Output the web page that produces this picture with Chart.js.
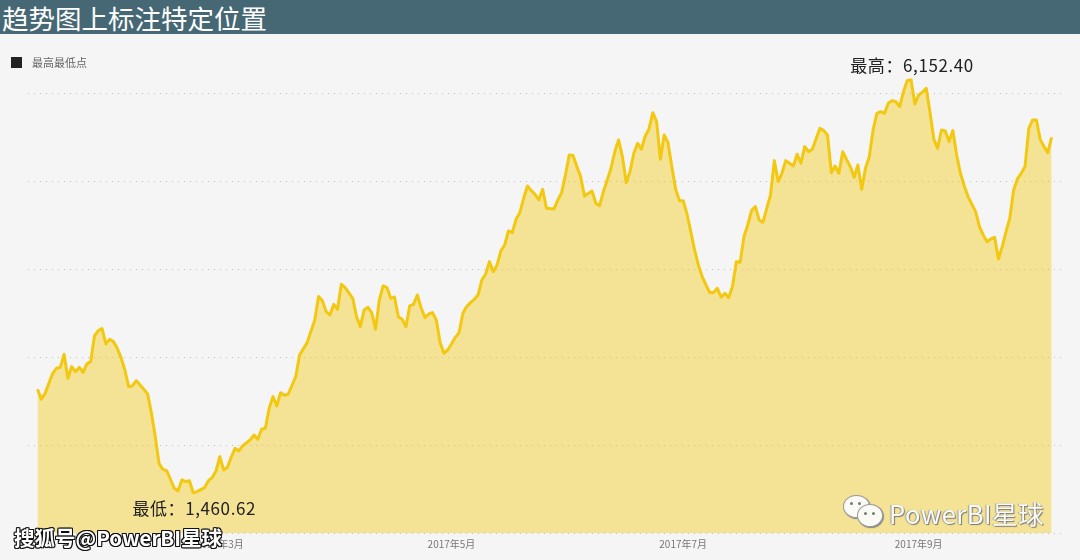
<!DOCTYPE html>
<html><head><meta charset="utf-8">
<script src="https://cdn.jsdelivr.net/npm/chart.js@4.4.1/dist/chart.umd.min.js"></script>
<style>
html,body{margin:0;padding:0;background:#f5f5f5;}
body{width:1080px;height:560px;position:relative;overflow:hidden;font-family:"Noto Sans CJK SC","Noto Sans",sans-serif;}
#chartBox{position:absolute;left:0;top:0;width:1080px;height:560px;}
#title{position:absolute;left:0;top:0;width:1080px;height:34px;background:#466875;color:#fff;font-size:26.5px;line-height:36px;padding-left:2px;box-sizing:border-box;white-space:nowrap;overflow:hidden;}
#legend{position:absolute;left:11px;top:54px;font-size:11px;color:#666;display:flex;align-items:center;}
#legend i{display:inline-block;width:11px;height:11px;background:#222;margin-right:10px;}
#wm1{position:absolute;left:14px;top:522px;font-size:20.5px;font-weight:bold;color:#fff;line-height:30px;white-space:nowrap;
 text-shadow:1px 1px 0 #111,-1px -1px 0 #111,1px -1px 0 #111,-1px 1px 0 #111,0 1px 0 #111,0 -1px 0 #111,1px 0 0 #111,-1px 0 0 #111;}
#wm2{position:absolute;left:889px;top:496px;font-size:25.5px;color:#fbfbf6;line-height:34px;white-space:nowrap;letter-spacing:0.5px;
 text-shadow:1px 1px 1px #777,-1px 0 1px #999;}
.bub{position:absolute;border-radius:50%;background:#fbfbf6;border:1px solid #999;box-shadow:1px 1px 1px #888;}
.eye{position:absolute;width:3px;height:3px;border-radius:50%;background:#777;}
</style></head>
<body>
<div id="chartBox"><canvas id="c" width="1080" height="560"></canvas></div>
<div id="title">趋势图上标注特定位置</div>
<div id="legend"><i></i><span>最高最低点</span></div>
<div class="bub" style="left:843px;top:495px;width:25px;height:21px;"></div>
<div class="eye" style="left:850px;top:502px;"></div><div class="eye" style="left:858px;top:502px;"></div>
<div class="bub" style="left:857px;top:504px;width:24px;height:21px;"></div>
<div class="eye" style="left:864px;top:512px;"></div><div class="eye" style="left:872px;top:512px;"></div>
<div id="wm2">PowerBI星球</div>
<div id="wm1">搜狐号@PowerBI星球</div>
<script>
// day of year 2017 (0 = Jan 1)
const days = [11,12,13,15,16,17,18,19,20,21,22,23,24,25,26,27,28,29,30,31,32,33,34,35,36,37,38,39,40,41,42,43,44,45,46,47,48,49,50,51,52,53,55,56,57,58,59,60,61,62,63,64,65,67,68,69,70,71,72,73,74,75,76,77,79,80,82,84,85,86,87,88,89,90,91,92,94,95,96,97,98,99,100,101,102,103,104,105,106,107,108,109,110,111,112,113,114,115,116,117,118,119,120,121,122,123,124,125,126,127,128,129,130,131,132,133,134,135,136,137,138,139,140,141,142,143,144,145,147,148,149,150,151,152,153,154,155,157,158,159,160,162,163,164,165,166,167,168,169,170,171,172,173,174,175,176,177,178,179,180,181,182,183,184,185,186,187,188,189,190,191,192,193,194,195,196,197,198,199,200,201,202,203,204,205,206,207,208,209,210,211,212,213,214,215,217,218,219,220,221,222,223,224,225,226,227,228,229,230,231,232,233,234,235,236,237,238,239,240,241,242,243,244,245,246,247,248,249,250,251,252,253,254,255,256,257,258,259,260,261,262,263,264,265,266,267,268,269,270,271,272,273,274,275,276,277,278];
const values = [2636,2523,2590,2818,2875,2886,3034,2761,2894,2837,2886,2830,2925,2951,3243,3303,3326,3152,3205,3178,3102,2996,2856,2667,2674,2735,2686,2636,2583,2364,2099,1795,1727,1712,1614,1511,1481,1606,1587,1598,1460.62,1474,1519,1598,1633,1708,1871,1720,1750,1864,1966,1936,1992,2061,2117,2068,2182,2193,2421,2553,2447,2598,2568,2580,2780,3027,3167,3424,3690,3644,3519,3481,3602,3545,3830,3792,3670,3462,3348,3538,3568,3508,3318,3652,3811,3792,3670,3686,3462,3432,3348,3583,3602,3708,3564,3451,3492,3508,3424,3167,3046,3083,3152,3227,3280,3500,3576,3621,3659,3708,3879,3947,4087,3973,4049,4209,4276,4436,4417,4568,4644,4807,4947,4894,4852,4788,4909,4693,4686,4788,4871,5072,5299,5292,5167,5053,4833,4890,4750,4723,4883,5148,5337,5470,5280,4985,5110,5318,5432,5364,5515,5595,5780,5678,5250,5526,5439,5167,4913,4780,4780,4629,4428,4220,4049,3917,3822,3735,3735,3784,3682,3727,3678,3811,4087,4079,4371,4504,4667,4712,4561,4534,4693,4845,5235,4997,5091,5235,5205,5174,5307,5205,5394,5337,5364,5602,5576,5526,5098,5174,5091,5337,5250,5167,5045,5186,4909,5148,5280,5583,5773,5792,5773,5886,5917,5905,5848,6019,6145,6152.40,5879,5981,6011,6057,5780,5477,5375,5583,5572,5451,5576,5299,5091,4947,4826,4739,4655,4485,4390,4314,4345,4364,4117,4258,4428,4580,4902,5027,5091,5167,5602,5697,5697,5477,5394,5326,5500];
const tickDays = [59,120,181,243];
const tickLabels = ['2017年3月','2017年5月','2017年7月','2017年9月'];
const markerNames = ['最高','最低'];

const maxV = Math.max(...values), minV = Math.min(...values);
const mainData = days.map((d,i)=>({x:d,y:values[i]}));
const markerData = [
  {x: days[values.indexOf(maxV)], y: maxV},
  {x: days[values.indexOf(minV)], y: minV}
];
const fmt = v => v.toLocaleString('en-US',{minimumFractionDigits:2,maximumFractionDigits:2});

const hiLo = {
  id:'hiLo',
  afterDatasetsDraw(chart){
    const meta = chart.getDatasetMeta(1);
    const ctx = chart.ctx;
    ctx.save();
    ctx.font = '17px "Noto Sans CJK SC"';
    ctx.fillStyle = '#222';
    ctx.textAlign = 'center';
    ctx.textBaseline = 'middle';
    try { ctx.letterSpacing = '0.6px'; } catch(e) {}
    meta.data.forEach((pt,i)=>{
      const txt = markerNames[i] + '：' + fmt(markerData[i].y);
      ctx.fillText(txt, pt.x + 1, i===0 ? pt.y-14 : pt.y+16);
    });
    ctx.restore();
  }
};

new Chart(document.getElementById('c'), {
  type:'line',
  data:{datasets:[
    {label:'值', data:mainData, borderColor:'#f2c811', backgroundColor:'rgba(242,200,17,0.42)', borderWidth:3,
     fill:'start', pointRadius:0, tension:0, borderJoinStyle:'round'},
    {label:'最高最低点', data:markerData, showLine:false, pointRadius:0, backgroundColor:'#222', borderColor:'#222'}
  ]},
  options:{
    responsive:false, animation:false, events:[],
    layout:{padding:{left:28,right:17,top:71.3,bottom:6.7}},
    plugins:{legend:{display:false}, tooltip:{enabled:false}},
    scales:{
      x:{type:'linear', min:8.5, max:281,
         afterBuildTicks: s => { s.ticks = tickDays.map(v=>({value:v})); },
         afterFit: s => { s.height = 20; },
         grid:{display:false}, border:{display:false},
         ticks:{autoSkip:false, maxRotation:0, padding:-3, color:'#777', font:{size:10, family:'"Noto Sans CJK SC"'},
                callback: v => tickLabels[tickDays.indexOf(v)] }},
      y:{min:1000, max:6250,
         afterBuildTicks: s => { s.ticks = [1000,2000,3000,4000,5000,6000].map(v=>({value:v})); },
         afterFit: s => { s.width = 0; },
         ticks:{display:false}, border:{display:false, dash:[1,5]},
         grid:{color:'#bdbdbd', lineWidth:1, tickLength:0, drawTicks:false}}
    }
  },
  plugins:[hiLo]
});
</script>
</body></html>
